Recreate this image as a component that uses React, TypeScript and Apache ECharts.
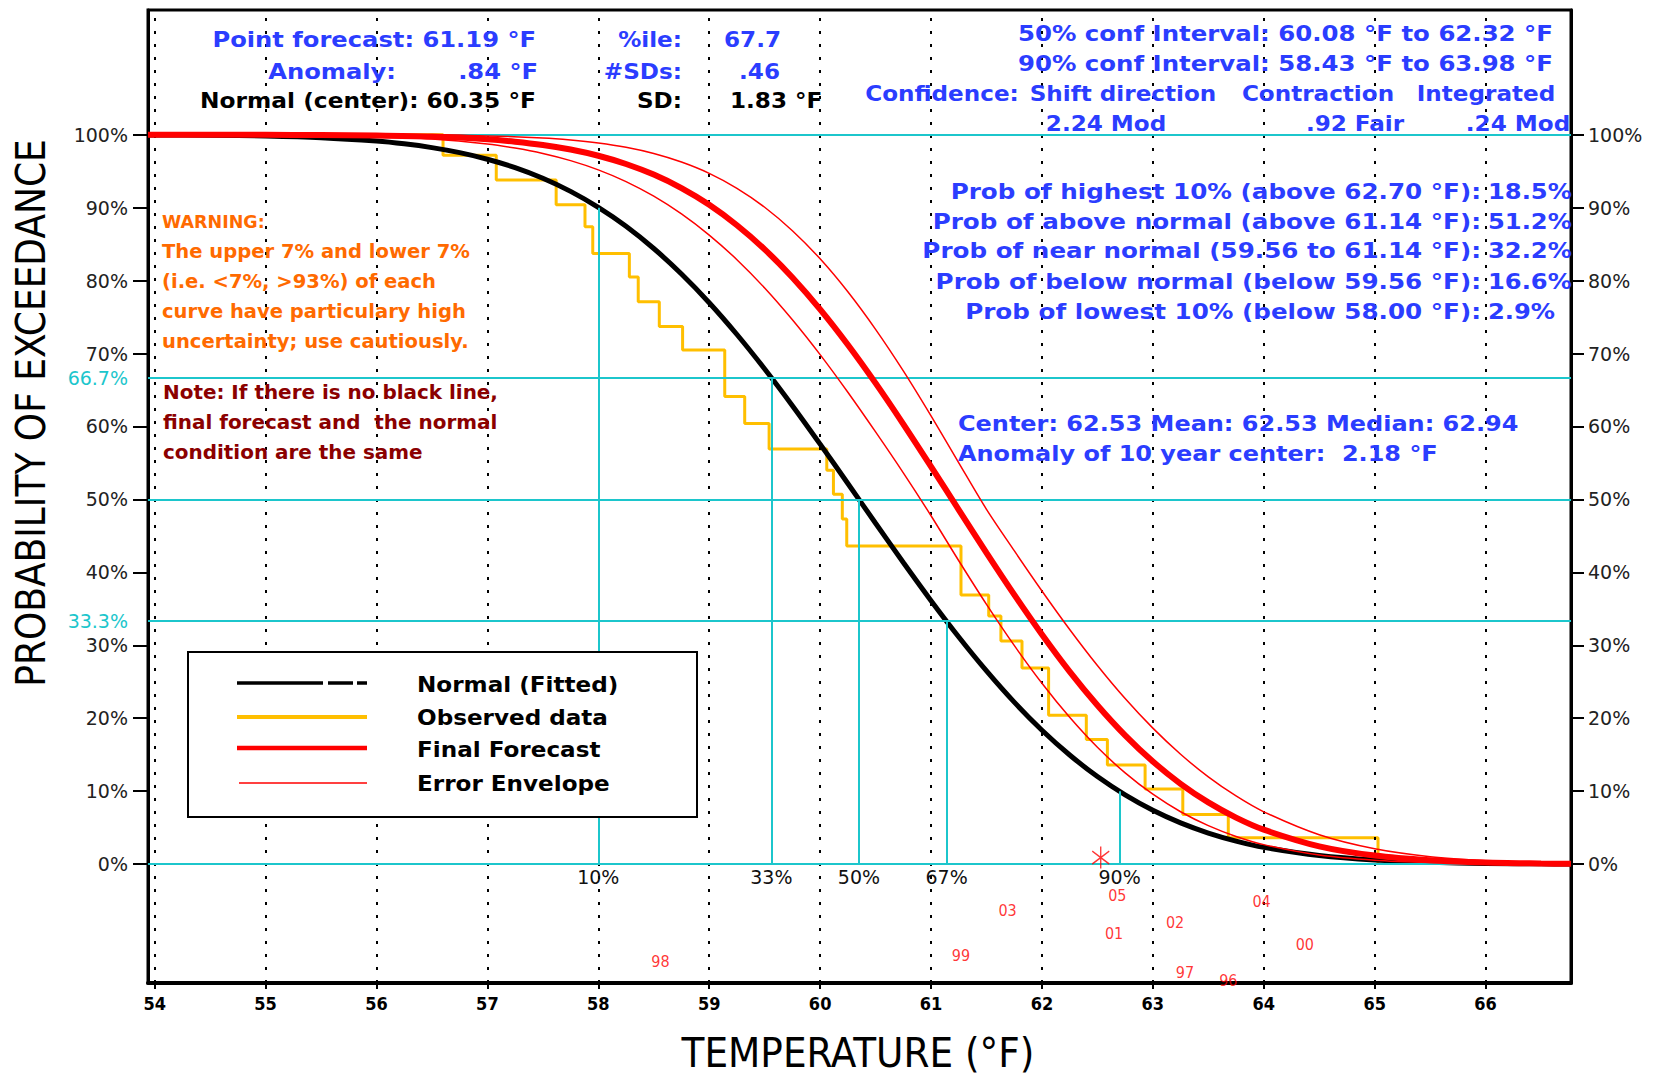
import React, { useEffect, useRef } from 'react';
import * as echarts from 'echarts';

// ---------- data ----------
const tempTicks = [54, 55, 56, 57, 58, 59, 60, 61, 62, 63, 64, 65, 66];
const probTicks = [0, 10, 20, 30, 40, 50, 60, 70, 80, 90, 100];
const tercileLabels = [33.3, 66.7];
const refLevels = [0, 33.3, 50, 66.7, 100];

const pctTemps = [58.0, 59.56, 60.35, 61.14, 62.7];
const pctHeights = [90, 66.7, 50, 33.3, 10];
const pctLabels = ['10%', '33%', '50%', '67%', '90%'];

const normalCurve: [number, number][] = [
  [53.94, 99.97], [54.5, 99.93], [55, 99.83], [55.5, 99.6], [56, 99.13], [56.25, 98.75], [56.5, 98.23],
  [56.75, 97.54], [57, 96.64], [57.25, 95.49], [57.5, 94.03], [57.75, 92.23], [58, 90.04], [58.25, 87.45],
  [58.5, 84.4], [58.75, 80.9], [59, 76.97], [59.25, 72.61], [59.5, 67.88], [59.75, 62.85], [60, 57.58],
  [60.25, 52.18], [60.5, 46.73], [60.75, 41.35], [61, 36.12], [61.25, 31.14], [61.5, 26.49], [61.75, 22.21],
  [62, 18.36], [62.25, 14.96], [62.5, 12.0], [62.75, 9.49], [63, 7.38], [63.25, 5.65], [63.5, 4.26],
  [63.75, 3.16], [64, 2.3], [64.5, 1.17], [65, 0.55], [65.5, 0.25], [66, 0.1], [66.5, 0.04], [66.77, 0.02],
];

const finalForecast: [number, number][] = [
  [53.94, 100], [55, 99.99], [55.5, 99.96], [56, 99.9], [56.5, 99.74], [57, 99.37], [57.25, 99.05],
  [57.5, 98.6], [57.75, 97.97], [58, 97.12], [58.25, 95.99], [58.5, 94.53], [58.75, 92.68], [59, 90.39],
  [59.25, 87.59], [59.5, 84.28], [59.75, 80.43], [60, 76.06], [60.25, 71.21], [60.5, 65.94], [60.75, 60.33],
  [61, 54.5], [61.25, 48.58], [61.5, 42.68], [61.75, 36.95], [62, 31.49], [62.25, 26.4], [62.5, 21.78],
  [62.75, 17.65], [63, 14.06], [63.25, 11.01], [63.5, 8.46], [63.75, 6.38], [64, 4.72], [64.5, 2.44],
  [65, 1.17], [65.5, 0.52], [66, 0.21], [66.5, 0.08], [66.77, 0.04],
];

const envelopeUpper: [number, number][] = [
  [53.94, 100], [56.5, 99.95], [57, 99.84], [57.5, 99.55], [57.75, 99.27], [58, 98.86], [58.25, 98.27],
  [58.5, 97.42], [58.75, 96.25], [59, 94.7], [59.25, 92.65], [59.5, 90.06], [59.75, 86.84], [60, 82.99],
  [60.25, 78.47], [60.5, 73.32], [60.75, 67.62], [61, 61.45], [61.25, 55.01], [61.5, 48.63], [61.75, 42.97],
  [62, 37.45], [62.25, 32.17], [62.5, 27.23], [62.75, 22.7], [63, 18.64], [63.25, 15.06], [63.5, 11.96],
  [63.75, 9.34], [64, 7.17], [64.5, 4.02], [65, 2.1], [65.5, 1.02], [66, 0.46], [66.5, 0.19], [66.77, 0.12],
];

const envelopeLower: [number, number][] = [
  [53.94, 100], [54.5, 99.99], [55, 99.96], [55.5, 99.9], [56, 99.75], [56.5, 99.41], [57, 98.73],
  [57.25, 98.17], [57.5, 97.43], [57.75, 96.45], [58, 95.18], [58.25, 93.57], [58.5, 91.57], [58.75, 89.14],
  [59, 86.24], [59.25, 82.87], [59.5, 78.99], [59.75, 74.63], [60, 69.85], [60.25, 64.69], [60.5, 59.25],
  [60.75, 53.64], [61, 47.76], [61.25, 41.59], [61.5, 35.61], [61.75, 29.98], [62, 24.79], [62.25, 20.12],
  [62.5, 16.01], [62.75, 12.51], [63, 9.58], [63.25, 7.18], [63.5, 5.27], [63.75, 3.79], [64, 2.67],
  [64.5, 1.24], [65, 0.53], [65.5, 0.21], [66, 0.07], [66.77, 0.02],
];

const observed: [number, number][] = [
  [55.3, 100], [56.6, 97.2], [57.08, 93.8], [57.62, 90.4], [57.88, 87.4], [57.95, 83.7], [58.28, 80.5],
  [58.36, 77.1], [58.55, 73.7], [58.76, 70.5], [59.14, 64.1], [59.32, 60.4], [59.54, 56.9], [60.06, 54.0],
  [60.12, 50.7], [60.2, 47.3], [60.24, 43.6], [61.27, 36.9], [61.52, 34.0], [61.63, 30.6], [61.82, 26.9],
  [62.06, 20.4], [62.4, 17.1], [62.59, 13.6], [62.93, 10.3], [63.27, 6.8], [63.68, 3.6], [65.03, 0],
];

const yearLabels = ['98', '99', '03', '05', '01', '02', '04', '00', '97', '96'];
const yearTemps = [58.56, 61.27, 61.69, 62.68, 62.65, 63.2, 63.98, 64.37, 63.29, 63.68];
const yearRows = [-13.4, -12.5, -6.3, -4.3, -9.5, -8.0, -5.1, -11.0, -14.9, -16.0];

const tenYearCenter: [number, number][] = [[62.53, 0.9]];

// ---------- styles ----------
const BLUE = '#2b3dff';
const CYAN = '#1cc6cc';
const ORANGE = '#ff6a00';
const DARKRED = '#8b0000';
const GOLD = '#ffbf00';
const FONT = '"DejaVu Sans", sans-serif';
const COND = '"DejaVu Sans Condensed", "DejaVu Sans", sans-serif';
const NARROW = '"Liberation Sans Narrow", "DejaVu Sans Condensed", sans-serif';

const txt = (text: string, x: number, y: number, fill: string, fontSize: number, align = 'left', sx = 1, fontWeight: any = 'bold', fontFamily = FONT) => ({
  type: 'text', x, y, scaleX: sx, silent: true, z: 100,
  style: { text, fill, fontSize, fontWeight, fontFamily, align, verticalAlign: 'middle' },
});

const seg = (x1: number, y1: number, x2: number, y2: number, stroke: string, lineWidth: number) => ({
  type: 'line', silent: true, z: 101, shape: { x1, y1, x2, y2 }, style: { stroke, lineWidth },
});

const graphics: any[] = [
  // header left
  txt('Point forecast: 61.19 °F', 536, 39, BLUE, 22, 'right', 1.1),
  txt('Anomaly:', 396, 71, BLUE, 22, 'right', 1.1),
  txt('.84 °F', 538, 71, BLUE, 22, 'right', 1.1),
  txt('Normal (center): 60.35 °F', 536, 100, '#000', 22, 'right', 1.06),
  txt('%ile:', 682, 39, BLUE, 22, 'right', 1.05),
  txt('67.7', 724, 39, BLUE, 22, 'left', 1.05),
  txt('#SDs:', 682, 71, BLUE, 22, 'right', 1.05),
  txt('.46', 780, 71, BLUE, 22, 'right', 1.05),
  txt('SD:', 682, 100, '#000', 22, 'right', 1.05),
  txt('1.83 °F', 730, 100, '#000', 22, 'left', 1.05),
  // header right
  txt('50% conf Interval: 60.08 °F to 62.32 °F', 1553, 33, BLUE, 22, 'right', 1.11),
  txt('90% conf Interval: 58.43 °F to 63.98 °F', 1553, 63, BLUE, 22, 'right', 1.11),
  txt('Confidence:', 942, 93, BLUE, 22, 'center', 1.05),
  txt('Shift direction', 1123, 93, BLUE, 22, 'center', 1.05),
  txt('Contraction', 1318, 93, BLUE, 22, 'center', 1.05),
  txt('Integrated', 1486, 93, BLUE, 22, 'center', 1.05),
  txt('2.24 Mod', 1106, 123, BLUE, 22, 'center', 1.05),
  txt('.92 Fair', 1355, 123, BLUE, 22, 'center', 1.05),
  txt('.24 Mod', 1518, 123, BLUE, 22, 'center', 1.05),
  // probabilities
  txt('Prob of highest 10% (above 62.70 °F):', 1481, 191, BLUE, 22, 'right', 1.12),
  txt('18.5%', 1488, 191, BLUE, 22, 'left', 1.1),
  txt('Prob of above normal (above 61.14 °F):', 1481, 221, BLUE, 22, 'right', 1.12),
  txt('51.2%', 1488, 221, BLUE, 22, 'left', 1.1),
  txt('Prob of near normal (59.56 to 61.14 °F):', 1481, 250, BLUE, 22, 'right', 1.12),
  txt('32.2%', 1488, 250, BLUE, 22, 'left', 1.1),
  txt('Prob of below normal (below 59.56 °F):', 1481, 281, BLUE, 22, 'right', 1.12),
  txt('16.6%', 1488, 281, BLUE, 22, 'left', 1.1),
  txt('Prob of lowest 10% (below 58.00 °F):', 1481, 311, BLUE, 22, 'right', 1.12),
  txt('2.9%', 1488, 311, BLUE, 22, 'left', 1.1),
  // center
  txt('Center: 62.53 Mean: 62.53 Median: 62.94', 958, 423, BLUE, 22, 'left', 1.09),
  txt('Anomaly of 10 year center:  2.18 °F', 958, 453, BLUE, 22, 'left', 1.09),
  // warning
  txt('WARNING:', 162, 222, ORANGE, 17, 'left', 1.03),
  txt('The upper 7% and lower 7%', 162, 252, ORANGE, 19, 'left', 1.03),
  txt('(i.e. <7%, >93%) of each', 162, 282, ORANGE, 19, 'left', 1.03),
  txt('curve have particulary high', 162, 312, ORANGE, 19, 'left', 1.03),
  txt('uncertainty; use cautiously.', 162, 342, ORANGE, 19, 'left', 1.03),
  txt('Note: If there is no black line,', 163, 393, DARKRED, 19, 'left', 1.05),
  txt('final forecast and  the normal', 163, 423, DARKRED, 19, 'left', 1.05),
  txt('condition are the same', 163, 453, DARKRED, 19, 'left', 1.05),
  // legend
  {
    type: 'rect', silent: true, z: 100,
    shape: { x: 188, y: 652, width: 509, height: 165 },
    style: { fill: '#fff', stroke: '#000', lineWidth: 2 },
  },
  seg(237, 683, 323, 683, '#000', 3.5),
  seg(328, 683, 353, 683, '#000', 3.5),
  seg(357, 683, 367, 683, '#000', 3.5),
  seg(237, 717, 367, 717, GOLD, 4),
  seg(237, 748, 367, 748, '#ff0000', 4.5),
  seg(239, 783, 367, 783, '#ff0000', 1.5),
  txt('Normal (Fitted)', 417, 684, '#000', 22, 'left', 1.05),
  txt('Observed data', 417, 717, '#000', 22, 'left', 1.05),
  txt('Final Forecast', 417, 749, '#000', 22, 'left', 1.05),
  txt('Error Envelope', 417, 783, '#000', 22, 'left', 1.05),
  // axis titles
  txt('TEMPERATURE (°F)', 858, 1053, '#000', 40, 'center', 1.04, 'normal', COND),
  {
    type: 'text', silent: true, z: 100, x: 31, y: 413, rotation: Math.PI / 2,
    style: { text: 'PROBABILITY OF EXCEEDANCE', fill: '#000', fontSize: 40, fontWeight: 'normal', fontFamily: COND, align: 'center', verticalAlign: 'middle' },
  },
];

const yLabelFormatter = (v: number) => (tercileLabels.indexOf(v) >= 0 ? `{c|${v}%}` : `${v}%`);

const curveStyle = { showSymbol: false, smooth: 0.3 };

const option: any = {
  animation: false,
  backgroundColor: '#fff',
  grid: { left: 148, right: 85, top: 10, bottom: 95, show: true, borderColor: '#000', borderWidth: 3, backgroundColor: 'transparent' },
  xAxis: {
    type: 'value', min: 53.94, max: 66.77,
    splitLine: { show: false },
    axisLine: { show: true, onZero: false, lineStyle: { color: '#000', width: 4 } },
    axisTick: { show: true, length: 6, customValues: tempTicks, lineStyle: { color: '#000', width: 2 } },
    axisLabel: { customValues: tempTicks, margin: 11, fontSize: 18, fontWeight: 'bold', fontFamily: NARROW, color: '#000' },
  },
  yAxis: [
    {
      type: 'value', min: -16.3, max: 117.1, position: 'left',
      splitLine: { show: false },
      axisLine: { show: true, onZero: false, lineStyle: { color: '#000', width: 3 } },
      axisTick: { show: true, length: 15, customValues: probTicks, lineStyle: { color: '#000', width: 2 } },
      axisLabel: {
        customValues: [...probTicks, ...tercileLabels], margin: 20, fontSize: 19, fontFamily: FONT, color: '#222',
        formatter: yLabelFormatter, rich: { c: { color: CYAN, fontSize: 19, fontFamily: FONT } },
      },
    },
    {
      type: 'value', min: -16.3, max: 117.1, position: 'right',
      splitLine: { show: false },
      axisLine: { show: true, onZero: false, lineStyle: { color: '#000', width: 3 } },
      axisTick: { show: true, length: 13, customValues: probTicks, lineStyle: { color: '#000', width: 2 } },
      axisLabel: { customValues: probTicks, margin: 17, fontSize: 19, fontFamily: FONT, color: '#222', formatter: '{value}%' },
    },
  ],
  series: [
    {
      name: 'grid', type: 'line', data: [], z: 1, silent: true,
      markLine: {
        silent: true, symbol: ['none', 'none'], label: { show: false },
        lineStyle: { color: '#000', width: 2, type: [3, 10] },
        data: tempTicks.map((t) => ({ xAxis: t })),
      },
    },
    {
      name: 'reference', type: 'line', data: [], z: 2, silent: true,
      markLine: {
        silent: true, symbol: ['none', 'none'],
        lineStyle: { color: CYAN, width: 2, type: 'solid' },
        label: { show: false },
        data: [
          ...refLevels.map((v) => ({ yAxis: v, label: { show: false } })),
          ...pctTemps.map((t, i) => [
            { coord: [t, 0], name: pctLabels[i], label: { show: true, position: 'start', formatter: '{b}', color: '#111', fontSize: 19, fontFamily: FONT, distance: 3 } },
            { coord: [t, pctHeights[i]] },
          ]),
        ],
      },
    },
    {
      name: 'Observed data', type: 'line', step: 'end', data: observed, z: 3, showSymbol: false,
      lineStyle: { color: GOLD, width: 3 }, itemStyle: { color: GOLD },
    },
    {
      name: 'Normal (Fitted)', type: 'line', data: normalCurve, z: 4, ...curveStyle,
      lineStyle: { color: '#000', width: 5 }, itemStyle: { color: '#000' },
    },
    {
      name: 'Error Envelope', type: 'line', data: envelopeUpper, z: 5, ...curveStyle,
      lineStyle: { color: '#ff0000', width: 1.5 }, itemStyle: { color: '#ff0000' },
    },
    {
      name: 'Error Envelope (lower)', type: 'line', data: envelopeLower, z: 5, ...curveStyle,
      lineStyle: { color: '#ff0000', width: 1.5 }, itemStyle: { color: '#ff0000' },
    },
    {
      name: 'Final Forecast', type: 'line', data: finalForecast, z: 6, ...curveStyle,
      lineStyle: { color: '#ff0000', width: 6 }, itemStyle: { color: '#ff0000' },
    },
    {
      name: 'years', type: 'scatter', z: 7, silent: true, clip: false, symbolSize: 1,
      itemStyle: { color: 'rgba(0,0,0,0)' },
      label: { show: true, position: 'inside', formatter: '{b}', color: '#ff0000', fontSize: 16, fontFamily: COND },
      data: yearTemps.map((t, i) => ({ name: yearLabels[i], value: [t, yearRows[i]] })),
    },
    {
      name: 'center', type: 'scatter', z: 8, silent: true, clip: false,
      symbol: 'path://M10,0 L10,24 M0,5 L20,19 M0,19 L20,5',
      symbolSize: [17, 22],
      itemStyle: { color: 'rgba(0,0,0,0)', borderColor: '#ff0000', borderWidth: 1.5 },
      data: tenYearCenter,
    },
  ],
  graphic: graphics,
};

export default function App() {
  const ref = useRef<HTMLDivElement>(null);
  useEffect(() => {
    const chart = echarts.init(ref.current!, null, { renderer: 'svg' });
    chart.setOption(option);
    return () => chart.dispose();
  }, []);
  return (
    <div
      ref={ref}
      style={{ position: 'fixed', left: 0, top: 0, width: 1656, height: 1078, background: '#fff' }}
    />
  );
}
